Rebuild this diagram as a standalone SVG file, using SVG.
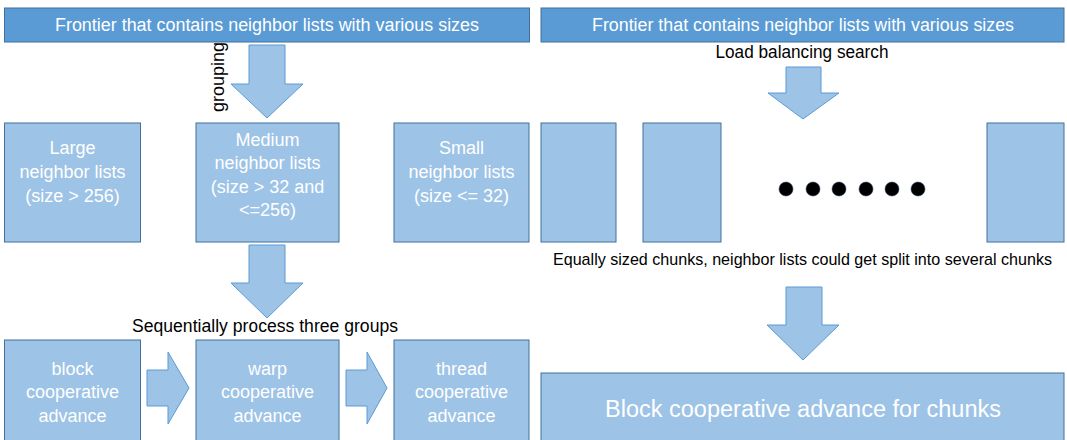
<svg xmlns="http://www.w3.org/2000/svg" width="1067" height="440" viewBox="0 0 1067 440">
<style>
.bar{fill:#5B9BD5;stroke:#41719C;stroke-width:1}
.box{fill:#9DC3E6;stroke:#41719C;stroke-width:1}
.arrow{fill:#9DC3E6;stroke:#5B9BD5;stroke-width:1}
.wt{font-family:"Liberation Sans",Arial,sans-serif;font-size:18px;fill:#ffffff;text-anchor:middle}
.bt{font-family:"Liberation Sans",Arial,sans-serif;font-size:17.5px;fill:#000000;text-anchor:middle}
.dot{fill:#000000;stroke:#1F3864;stroke-width:0.5}
</style>
<rect width="1067" height="440" fill="#ffffff"/>
<g id="frontier-left">
<rect class="bar" x="4.5" y="8" width="525" height="34"/>
<text class="wt" x="267" y="31" textLength="424" lengthAdjust="spacingAndGlyphs">Frontier that contains neighbor lists with various sizes</text>
</g>
<g id="frontier-right">
<rect class="bar" x="541" y="8" width="523" height="34"/>
<text class="wt" x="803" y="31" textLength="422" lengthAdjust="spacingAndGlyphs">Frontier that contains neighbor lists with various sizes</text>
</g>
<g id="large">
<rect class="box" x="4.5" y="123" width="136" height="119"/>
<text class="wt" x="72.5" y="154">Large</text>
<text class="wt" x="72.5" y="178">neighbor lists</text>
<text class="wt" x="72.5" y="202">(size &gt; 256)</text>
</g>
<g id="medium">
<rect class="box" x="196" y="123" width="143" height="119"/>
<text class="wt" x="267.5" y="145.5">Medium</text>
<text class="wt" x="267.5" y="169">neighbor lists</text>
<text class="wt" x="267.5" y="192.5">(size &gt; 32 and</text>
<text class="wt" x="267.5" y="216">&lt;=256)</text>
</g>
<g id="small">
<rect class="box" x="394" y="123" width="135" height="119"/>
<text class="wt" x="461.5" y="154">Small</text>
<text class="wt" x="461.5" y="178">neighbor lists</text>
<text class="wt" x="461.5" y="202">(size &lt;= 32)</text>
</g>
<g id="block">
<rect class="box" x="4.5" y="340" width="136" height="110"/>
<text class="wt" x="72.5" y="375">block</text>
<text class="wt" x="72.5" y="398">cooperative</text>
<text class="wt" x="72.5" y="422">advance</text>
</g>
<g id="warp">
<rect class="box" x="196" y="340" width="143" height="110"/>
<text class="wt" x="267.5" y="375">warp</text>
<text class="wt" x="267.5" y="398">cooperative</text>
<text class="wt" x="267.5" y="422">advance</text>
</g>
<g id="thread">
<rect class="box" x="394" y="340" width="135" height="110"/>
<text class="wt" x="461.5" y="375">thread</text>
<text class="wt" x="461.5" y="398">cooperative</text>
<text class="wt" x="461.5" y="422">advance</text>
</g>
<g id="chunk1"><rect class="box" x="541" y="123" width="75" height="119"/></g>
<g id="chunk2"><rect class="box" x="643" y="123" width="78" height="119"/></g>
<g id="chunkN"><rect class="box" x="987" y="123" width="77" height="119"/></g>
<g id="ellipsis">
<circle class="dot" cx="786" cy="189" r="7"/>
<circle class="dot" cx="813" cy="189" r="7"/>
<circle class="dot" cx="839" cy="189" r="7"/>
<circle class="dot" cx="866" cy="189" r="7"/>
<circle class="dot" cx="892" cy="189" r="7"/>
<circle class="dot" cx="918" cy="189" r="7"/>
</g>
<g id="block-chunks">
<rect class="box" x="541" y="373" width="523" height="80"/>
<text class="wt" x="803" y="417" style="font-size:23.5px" textLength="396" lengthAdjust="spacingAndGlyphs">Block cooperative advance for chunks</text>
</g>
<g id="connectors">
<path class="arrow" d="M249,45 H285 V84 H303 L267,118 L231,84 H249 Z"/>
<path class="arrow" d="M249,245 H285 V283 H303 L267,318 L231,283 H249 Z"/>
<path class="arrow" d="M147,370 H168 V352 L189,388 L168,424 V406 H147 Z"/>
<path class="arrow" d="M346,370 H367 V352 L387,388 L367,424 V406 H346 Z"/>
<path class="arrow" d="M786,67 H821 V93 H839 L803,119 L768,93 H786 Z"/>
<path class="arrow" d="M786,287 H822 V325 H839 L803,360 L767,325 H786 Z"/>
<text class="bt" transform="translate(224,77) rotate(-90)" style="font-size:18px">grouping</text>
<text class="bt" x="265" y="332" textLength="266" lengthAdjust="spacingAndGlyphs">Sequentially process three groups</text>
<text class="bt" x="802" y="58" textLength="173" lengthAdjust="spacingAndGlyphs">Load balancing search</text>
<text class="bt" x="802.5" y="265" style="font-size:16.2px" textLength="499" lengthAdjust="spacingAndGlyphs">Equally sized chunks, neighbor lists could get split into several chunks</text>
</g>
</svg>
